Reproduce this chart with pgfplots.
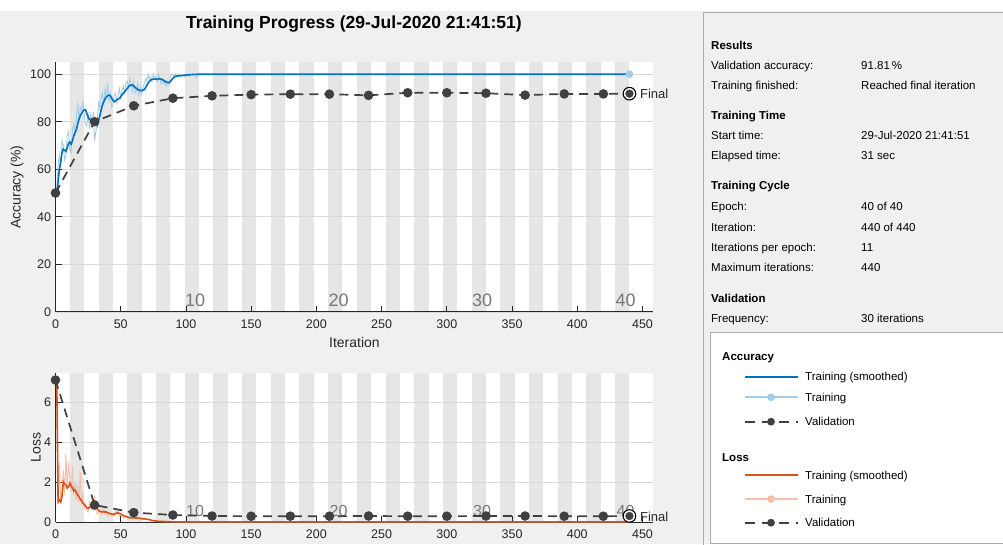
\documentclass[border=0pt]{standalone}
\usepackage{fontspec}
\setmainfont{Liberation Sans}
\usepackage{pgfplots}
\usepackage{pgfplotstable}
\pgfplotsset{compat=1.18}

\definecolor{figbg}{RGB}{240,240,240}
\definecolor{bandcol}{RGB}{230,230,230}
\definecolor{gridcol}{RGB}{218,218,218}
\definecolor{axcol}{RGB}{38,38,38}
\definecolor{epcol}{RGB}{120,120,120}
\definecolor{accsm}{RGB}{0,114,189}
\definecolor{accraw}{RGB}{163,204,232}
\definecolor{losssm}{RGB}{217,83,25}
\definecolor{lossraw}{RGB}{244,192,168}
\definecolor{valcol}{RGB}{64,64,64}
\definecolor{panborder}{RGB}{170,170,170}

\newcommand\tickfont{\fontsize{12.5}{14}\selectfont}
\newcommand\labfont{\fontsize{14}{16}\selectfont}
\newcommand\panfont{\fontsize{11.5}{13}\selectfont}
\newcommand\epfont{\fontsize{18}{20}\selectfont}
\newcommand\epfontb{\fontsize{16}{18}\selectfont}
\newcommand\titfont{\fontsize{17.5}{19}\selectfont\bfseries}

\pgfplotstableread{
it acc
1 50
2 62
3 66
4 61
5 72
6 70
7 64
8 66
9 74
10 76
11 68
12 67
13 77
14 79
15 74
16 82
17 87
18 81
19 86
20 85
21 88
22 83
23 79
24 78
25 84
26 77
27 83
28 79
29 84
30 72
31 76
32 79
33 88
34 86
35 90
36 92
37 87
38 94
39 91
40 96
41 89
42 92
43 86
44 87
45 91
46 92
47 88
48 91
49 94
50 90
51 93
52 95
53 92
54 96
55 97
56 94
57 98
58 96
59 93
60 97
61 92
62 93
63 96
64 91
65 95
66 92
67 94
68 96
69 98
70 97
71 100
72 98
73 99
74 97
75 100
76 98
77 99
78 97
79 100
80 98
81 96
82 98
83 96
84 97
85 95
86 97
87 96
88 99
89 100
90 100
91 99
92 100
93 99
94 100
95 100
96 99
97 100
98 100
99 99
100 100
101 100
102 100
103 99
104 100
107 100
108 98.5
109 100
440 100
}\accraw

\pgfplotstableread{
it acc
1 50
2 55
3 60
4 63
5 67
6 68.5
7 68
8 67.5
9 69
10 71
11 71.5
12 70.5
13 72
14 74
15 75.5
16 76.5
17 79
18 81
19 82.5
20 83.5
21 84.5
22 85
23 85
24 83.5
25 82
26 81
27 80.7
28 80.8
29 81
30 81.4
31 80
32 78.6
33 80.5
34 82.5
35 85
36 87
37 88.5
38 89.5
39 90.5
40 91
41 91.2
42 91
43 90
44 89
45 88.4
46 88.8
47 89.3
48 89.5
49 89.8
50 90.5
51 91.3
52 92
53 92.6
54 93.3
55 94
56 94.8
57 95.3
58 95.4
59 95.5
60 95
61 94.5
62 94
63 93.6
64 93.3
65 93.2
66 93
67 93.3
68 93.5
69 94.3
70 95.3
71 96.3
72 97
73 97.5
74 97.8
75 97.9
76 98
77 97.9
78 97.8
79 98
80 98.1
81 97.9
82 97.7
83 97.4
84 97
85 96.7
86 96.5
87 96.4
88 96.8
89 97.6
90 98.3
91 98.8
92 99.1
94 99.3
96 99.4
98 99.5
100 99.6
103 99.8
106 99.9
110 100
440 100
}\accsmooth

\pgfplotstableread{
it acc
0 50
30 80
60 86.7
90 89.9
120 90.9
150 91.4
180 91.6
210 91.6
240 91.1
270 92.2
300 92.2
330 92.0
360 91.2
390 91.7
420 91.7
440 91.81
}\accval

\pgfplotstableread{
it loss
1 6.9
2 1.0
3 3.0
4 1.0
5 1.5
6 2.6
7 1.4
8 3.4
9 1.6
10 3.0
11 2.2
12 1.5
13 2.8
14 1.3
15 2.0
16 1.1
17 1.9
18 1.0
19 2.5
20 0.8
21 1.4
22 0.7
23 0.9
24 0.6
25 0.5
26 1.0
27 0.8
28 0.6
29 0.7
30 1.2
31 0.6
32 0.4
33 0.5
34 0.6
35 0.4
36 0.5
37 0.7
38 0.4
39 0.5
40 0.3
41 0.45
42 0.35
43 0.3
44 0.4
45 0.3
46 0.55
47 0.4
48 0.6
49 0.3
50 0.35
52 0.2
54 0.3
56 0.15
58 0.25
60 0.2
62 0.15
64 0.25
66 0.1
68 0.2
70 0.1
72 0.15
74 0.05
76 0.08
78 0.02
80 0.05
84 0.01
90 0.02
100 0.0
440 0.0
}\lossraw

\pgfplotstableread{
it loss
1 6.9
2 1.0
3 1.1
4 1.0
5 1.3
6 2.0
7 1.9
8 1.85
9 1.7
10 1.75
11 1.95
12 1.8
13 1.7
14 1.55
15 1.6
16 1.45
17 1.35
18 1.25
19 1.15
20 1.05
21 0.95
22 0.88
23 0.8
24 0.72
25 0.68
26 0.72
27 0.78
28 0.74
29 0.78
30 0.85
31 0.78
32 0.66
33 0.58
34 0.53
35 0.52
36 0.5
37 0.52
38 0.5
39 0.5
40 0.46
42 0.42
44 0.38
46 0.42
48 0.46
50 0.4
52 0.32
54 0.28
56 0.23
58 0.21
60 0.21
62 0.2
64 0.19
66 0.17
68 0.16
70 0.14
72 0.12
74 0.08
76 0.06
78 0.04
80 0.03
85 0.02
90 0.01
100 0.005
440 0.003
}\losssmooth

\pgfplotstableread{
it loss
0 7.1
30 0.85
60 0.47
90 0.35
120 0.30
150 0.29
180 0.29
210 0.29
240 0.30
270 0.29
300 0.29
330 0.30
360 0.30
390 0.29
420 0.29
440 0.30
}\lossval

\pgfplotsset{
  tpstyle/.style={
    scale only axis, clip=false,
    xmin=0, xmax=458.3, ymin=0,
    axis x line*=bottom, axis y line*=left,
    axis line style={-, draw=axcol, line width=0.7pt},
    xtick={0,50,...,450},
    tick align=inside, major tick length=6pt,
    tick style={draw=axcol, line width=0.7pt},
    ymajorgrids, grid style={draw=gridcol, line width=0.6pt},
    tick label style={font=\tickfont, text=axcol},
    /pgf/number format/assume math mode=true,
    xticklabel style={yshift=-4.5pt},
    yticklabel style={xshift=-1pt},
    label style={font=\labfont, text=axcol},
  },
  valline/.style={valcol, line width=1.7pt, dash pattern=on 9pt off 6pt, mark=*, mark size=3.9pt, mark options={solid, fill=valcol, draw=valcol}},
}

\begin{document}
\begin{tikzpicture}
\pgfplotsset{set layers}
\begin{pgfonlayer}{axis background}
\fill[figbg] (0,0) rectangle (1003pt,-544pt);
\fill[white] (0,0) rectangle (1003pt,-10.5pt);
\end{pgfonlayer}

% title
\node[font=\titfont, text=black] at (354pt,-24.5pt) {Training Progress (29-Jul-2020 21:41:51)};

% ---------------- accuracy axis
\begin{axis}[tpstyle,
  width=597.8pt, height=249.6pt,
  at={(55.5pt,-311.8pt)}, anchor=south west,
  ymax=105.05, ytick={0,20,...,100},
  xlabel={Iteration}, ylabel={Accuracy (\%)},
  xlabel style={at={(axis description cs:0.5,0)}, anchor=center, yshift=-31pt},
  ylabel style={at={(axis description cs:0,0.5)}, anchor=center, yshift=38.5pt},
]
\begin{pgfonlayer}{axis background}
  \fill[white] (axis cs:0,0) rectangle (axis cs:458.3,105.05);
  \pgfplotsinvokeforeach{11,33,...,429}{
    \fill[bandcol] (axis cs:#1,0) rectangle ++(axis direction cs:11,105.05);
  }
\end{pgfonlayer}
\node[font=\epfont, text=epcol, anchor=base] at (axis cs:107,2.1) {10};
\node[font=\epfont, text=epcol, anchor=base] at (axis cs:217,2.1) {20};
\node[font=\epfont, text=epcol, anchor=base] at (axis cs:327,2.1) {30};
\node[font=\epfont, text=epcol, anchor=base] at (axis cs:437,2.1) {40};
\addplot[accraw, line width=0.9pt] table[x=it, y=acc] {\accraw};
\addplot[accsm, line width=1.6pt] table[x=it, y=acc] {\accsmooth};
\addplot[only marks, mark=*, mark size=3.6pt, accraw] coordinates {(440,100)};
\addplot[valline] table[x=it, y=acc] {\accval};
\addplot[only marks, mark=*, mark size=6.3pt, mark options={draw=black, fill=white, line width=1.1pt}] coordinates {(440,91.81)};
\addplot[only marks, mark=*, mark size=3.9pt, valcol] coordinates {(440,91.81)};
\node[font=\fontsize{13}{15}\selectfont, text=axcol, anchor=west, inner sep=0pt] at (axis cs:440,91.81) [xshift=10.5pt] {Final};
\end{axis}

% ---------------- loss axis
\begin{axis}[tpstyle,
  width=597.8pt, height=149.3pt,
  at={(55.5pt,-522pt)}, anchor=south west,
  ymax=7.465, ytick={0,2,4,6},
  ylabel={Loss},
  ylabel style={at={(axis description cs:0,0.5)}, anchor=center, yshift=19.5pt},
]
\begin{pgfonlayer}{axis background}
  \fill[white] (axis cs:0,0) rectangle (axis cs:458.3,7.465);
  \pgfplotsinvokeforeach{11,33,...,429}{
    \fill[bandcol] (axis cs:#1,0) rectangle ++(axis direction cs:11,7.465);
  }
\end{pgfonlayer}
\node[font=\epfontb, text=epcol, anchor=base] at (axis cs:107,0.3) {10};
\node[font=\epfontb, text=epcol, anchor=base] at (axis cs:217,0.3) {20};
\node[font=\epfontb, text=epcol, anchor=base] at (axis cs:327,0.3) {30};
\node[font=\epfontb, text=epcol, anchor=base] at (axis cs:437,0.3) {40};
\addplot[lossraw, line width=0.9pt] table[x=it, y=loss] {\lossraw};
\addplot[losssm, line width=1.6pt] table[x=it, y=loss] {\losssmooth};
\addplot[valline] table[x=it, y=loss] {\lossval};
\addplot[only marks, mark=*, mark size=6.3pt, mark options={draw=black, fill=white, line width=1.1pt}] coordinates {(440,0.30)};
\addplot[only marks, mark=*, mark size=3.9pt, valcol] coordinates {(440,0.30)};
\node[font=\fontsize{13}{15}\selectfont, text=axcol, anchor=west, inner sep=0pt] at (axis cs:440,0.24) [xshift=10.5pt] {Final};
\end{axis}

% ---------------- right panel
\fill[figbg] (703pt,-12pt) rectangle (1003pt,-544pt);
\draw[panborder, line width=0.8pt] (703pt,-545pt) -- (703pt,-12pt) -- (1004pt,-12pt);

\begin{scope}[every node/.style={anchor=base west, inner sep=0pt, font=\panfont, text=black}]
\node[font=\panfont\bfseries] at (711pt,-49pt) {Results};
\node at (711pt,-69pt) {Validation accuracy:};
\node at (861pt,-69pt) {91.81\,\%};
\node at (711pt,-89pt) {Training finished:};
\node at (861pt,-89pt) {Reached final iteration};
\node[font=\panfont\bfseries] at (711pt,-119pt) {Training Time};
\node at (711pt,-139.5pt) {Start time:};
\node at (861pt,-139.5pt) {29-Jul-2020 21:41:51};
\node at (711pt,-159.5pt) {Elapsed time:};
\node at (861pt,-159.5pt) {31 sec};
\node[font=\panfont\bfseries] at (711pt,-189.5pt) {Training Cycle};
\node at (711pt,-210pt) {Epoch:};
\node at (861pt,-210pt) {40 of 40};
\node at (711pt,-231pt) {Iteration:};
\node at (861pt,-231pt) {440 of 440};
\node at (711pt,-251pt) {Iterations per epoch:};
\node at (861pt,-251pt) {11};
\node at (711pt,-271pt) {Maximum iterations:};
\node at (861pt,-271pt) {440};
\node[font=\panfont\bfseries] at (711pt,-302pt) {Validation};
\node at (711pt,-322.5pt) {Frequency:};
\node at (861pt,-322.5pt) {30 iterations};
\end{scope}

% legend box
\draw[panborder, fill=white, line width=0.8pt] (710pt,-332pt) rectangle (1006pt,-543pt);
\begin{scope}[every node/.style={anchor=base west, inner sep=0pt, font=\panfont, text=black}]
\node[font=\panfont\bfseries] at (722pt,-360pt) {Accuracy};
\draw[accsm, line width=1.6pt] (745pt,-376.7pt) -- (798pt,-376.7pt);
\node at (805pt,-380.7pt) {Training (smoothed)};
\draw[accraw, line width=1.8pt] (745pt,-397.3pt) -- (798pt,-397.3pt);
\fill[accraw] (771pt,-397.3pt) circle (3.9pt);
\node at (805pt,-401.3pt) {Training};
\draw[valcol, line width=1.6pt, dash pattern=on 10pt off 7pt] (745pt,-421.7pt) -- (798pt,-421.7pt);
\fill[valcol] (771pt,-421.7pt) circle (3.9pt);
\node at (805pt,-425.7pt) {Validation};
\node[font=\panfont\bfseries] at (722pt,-461.7pt) {Loss};
\draw[losssm, line width=1.6pt] (745pt,-475pt) -- (798pt,-475pt);
\node at (805pt,-479pt) {Training (smoothed)};
\draw[lossraw, line width=1.8pt] (745pt,-499pt) -- (798pt,-499pt);
\fill[lossraw] (771pt,-499pt) circle (3.9pt);
\node at (805pt,-503pt) {Training};
\draw[valcol, line width=1.6pt, dash pattern=on 10pt off 7pt] (745pt,-522.7pt) -- (798pt,-522.7pt);
\fill[valcol] (771pt,-522.7pt) circle (3.9pt);
\node at (805pt,-526.7pt) {Validation};
\end{scope}

\pgfresetboundingbox
\path[use as bounding box] (0,0) rectangle (1003pt,-544pt);
\end{tikzpicture}
\end{document}
